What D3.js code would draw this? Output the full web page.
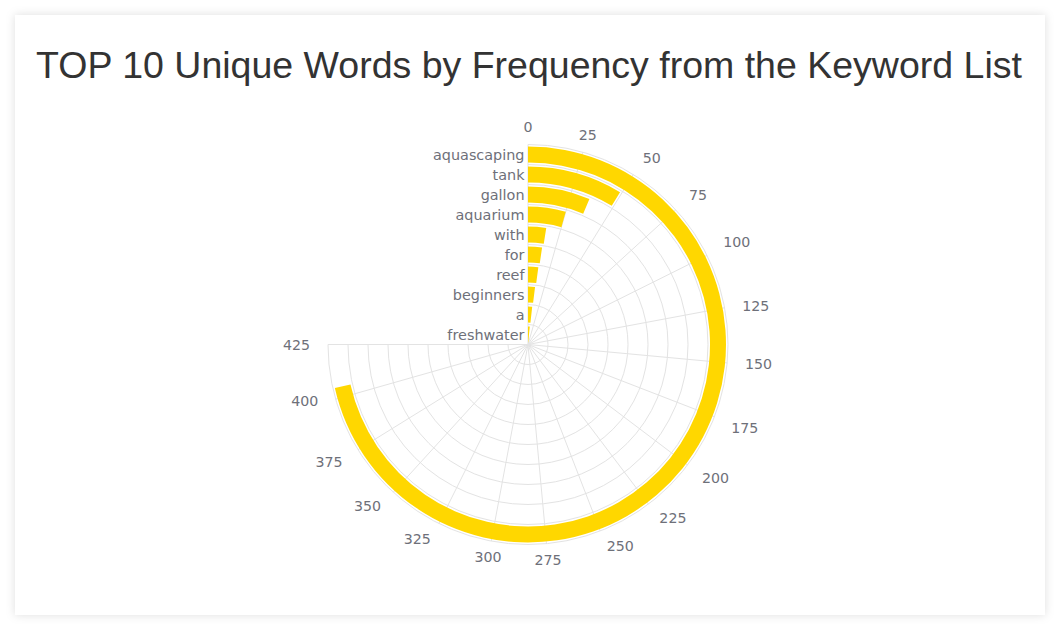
<!DOCTYPE html>
<html>
<head>
<meta charset="utf-8">
<script src="https://cdn.jsdelivr.net/npm/d3@7"></script>
<style>
  html, body { margin: 0; padding: 0; background: #ffffff; }
  svg { display: block; }
</style>
</head>
<body>
<svg id="chart" width="1060" height="631"></svg>
<script>
// ---- data ----
const categories = ["aquascaping", "tank", "gallon", "aquarium", "with", "for", "reef", "beginners", "a", "freshwater"];
const counts = [405, 49, 36, 25, 14, 13, 12, 11, 10, 9];
const angleTicks = [0, 25, 50, 75, 100, 125, 150, 175, 200, 225, 250, 275, 300, 325, 350, 375, 400, 425];
const titleText = "TOP 10 Unique Words by Frequency from the Keyword List";

// ---- layout ----
const W = 1060, H = 631;
const cx = 528, cy = 344.5, R = 200;
const svg = d3.select("#chart");

const defs = svg.append("defs");
const f = defs.append("filter").attr("id", "shadow").attr("x", "-5%").attr("y", "-5%").attr("width", "110%").attr("height", "110%");
f.append("feDropShadow").attr("dx", 0).attr("dy", 0).attr("stdDeviation", 5).attr("flood-color", "#000").attr("flood-opacity", 0.13);

svg.append("rect").attr("x", 15).attr("y", 15).attr("width", 1030).attr("height", 600)
  .attr("fill", "#fff").attr("filter", "url(#shadow)");

svg.append("text").attr("x", 529).attr("y", 77.5).attr("text-anchor", "middle")
  .attr("font-family", "'Liberation Sans', Arial, sans-serif").attr("font-size", 37.5)
  .attr("fill", "#333").text(titleText);

// ---- scales ----
const angle = d3.scaleLinear().domain([0, 425]).range([0, 1.5 * Math.PI]);
const inner = categories.slice().reverse();
const radiusGrid = d3.scaleBand().domain(inner).range([0, R]);
const radiusBar = d3.scaleBand().domain(inner).range([0, R]).paddingInner(0.2).paddingOuter(0.1);

const g = svg.append("g").attr("transform", `translate(${cx},${cy})`);
const gridColor = "#e3e3e3";

// radial split lines (angle axis)
g.append("g").selectAll("line").data(angleTicks).join("line")
  .attr("x1", 0).attr("y1", 0)
  .attr("x2", d => R * Math.sin(angle(d)))
  .attr("y2", d => -R * Math.cos(angle(d)))
  .attr("stroke", gridColor).attr("stroke-width", 1);

// circular split lines (radius axis) + outer axis line
const rings = inner.map(c => radiusGrid(c) + radiusGrid.bandwidth());
g.append("g").selectAll("path").data(rings).join("path")
  .attr("d", r => {
    const p = d3.path();
    p.moveTo(0, -r);
    p.arc(0, 0, r, -Math.PI / 2, Math.PI, false);
    return p.toString();
  })
  .attr("fill", "none").attr("stroke", gridColor).attr("stroke-width", 1);

// bars
const arc = d3.arc()
  .innerRadius(d => radiusBar(d.cat))
  .outerRadius(d => radiusBar(d.cat) + radiusBar.bandwidth())
  .startAngle(0)
  .endAngle(d => angle(d.v));
g.append("g").selectAll("path").data(categories.map((c, i) => ({cat: c, v: counts[i]}))).join("path")
  .attr("d", arc).attr("fill", "#FFD700");

// radius axis labels
const labelFont = "'DejaVu Sans', Verdana, sans-serif";
const labelColor = "#6E7079";
g.append("g").selectAll("text").data(categories).join("text")
  .attr("x", -3.5)
  .attr("y", c => -(radiusGrid(c) + radiusGrid.bandwidth() / 2))
  .attr("dy", "0.36em")
  .attr("text-anchor", "end")
  .attr("font-family", labelFont).attr("font-size", 14.4).attr("fill", labelColor)
  .text(c => c);

// angle axis labels (aligned by position, like an ECharts angle axis)
g.append("g").selectAll("text").data(angleTicks).join("text")
  .each(function (d) {
    const a = angle(d);
    const s = Math.sin(a), c = Math.cos(a);
    const px = 208 * s, py = -208 * c;
    let anchor = "middle";
    if (Math.abs(px) / R >= 0.3) anchor = px > 0 ? "start" : "end";
    let dy = 5;
    if (Math.abs(py) / R >= 0.3) dy = py > 0 ? 13 : -4.5;
    d3.select(this)
      .attr("x", 218 * s)
      .attr("y", -208 * c + dy)
      .attr("text-anchor", anchor);
  })
  .attr("font-family", labelFont).attr("font-size", 14.2).attr("fill", labelColor)
  .text(d => d);
</script>
</body>
</html>
